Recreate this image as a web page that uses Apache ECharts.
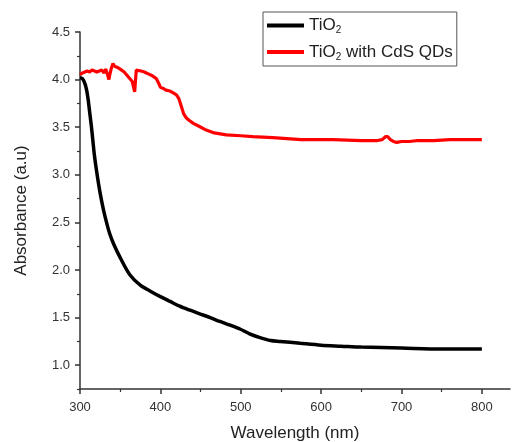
<!DOCTYPE html>
<html>
<head>
<meta charset="utf-8">
<script src="https://cdn.jsdelivr.net/npm/echarts@6/dist/echarts.min.js"></script>
<style>html,body{margin:0;padding:0;background:#fff}#c{width:513px;height:442px}</style>
</head>
<body>
<div id="c"></div>
<script>
const seriesNames = ['TiO2', 'TiO2 with CdS QDs'];
const tio2X = [300,303,306,308,310,312,314,316,318,321,325,329,333,337,342,350,362,375,387,400,412,424,436,449,462,474,487,499,511,524,537,549,574,600,625,650,700,750,800];
const tio2Y = [4.02,4.01,3.96,3.90,3.80,3.66,3.52,3.36,3.20,3.02,2.81,2.64,2.50,2.38,2.27,2.13,1.95,1.84,1.78,1.72,1.67,1.62,1.58,1.54,1.50,1.46,1.42,1.38,1.33,1.29,1.26,1.25,1.23,1.21,1.20,1.19,1.18,1.17,1.17];
const cdsX = [300,303,306,309,312,315,318,321,324,327,330,332,334,336,337,339,341,343,346,350,355,360,365,368,370,372,376,380,385,390,395,398,400,403,407,412,416,420,423,426,429,432,436,441,448,457,467,482,500,515,540,575,615,650,670,676,680,683,686,690,694,700,710,720,740,760,780,800];
const cdsY = [4.05,4.07,4.08,4.09,4.08,4.10,4.09,4.08,4.09,4.10,4.07,4.11,4.06,4.00,4.05,4.12,4.17,4.14,4.13,4.11,4.08,4.03,3.98,3.87,4.10,4.11,4.09,4.08,4.06,4.04,4.01,3.96,3.92,3.91,3.89,3.88,3.86,3.84,3.80,3.72,3.64,3.60,3.57,3.54,3.51,3.47,3.44,3.42,3.41,3.40,3.39,3.37,3.37,3.36,3.36,3.37,3.40,3.40,3.37,3.35,3.34,3.35,3.35,3.36,3.36,3.37,3.37,3.37];
const xTicks = [300,400,500,600,700,800];
const xMinor = [350,450,550,650,750];
const yTicks = [1.0,1.5,2.0,2.5,3.0,3.5,4.0,4.5];
const yMinor = [0.75,1.25,1.75,2.25,2.75,3.25,3.75,4.25];

const zip = (xs, ys) => xs.map((x, i) => [x, ys[i]]);
const font = 'Liberation Sans, Arial, sans-serif';
const axisColor = '#333';

const chart = echarts.init(document.getElementById('c'), null, {renderer: 'canvas'});
chart.setOption({
  animation: false,
  backgroundColor: '#fff',
  grid: {left: 80, right: 3, top: 32, bottom: 53, containLabel: false, outerBoundsMode: 'none'},
  legend: {
    orient: 'vertical',
    left: 263, top: 12,
    borderColor: '#555', borderWidth: 1,
    padding: [5, 4, 4, 4],
    itemGap: 8,
    itemWidth: 37, itemHeight: 4,
    icon: 'rect',
    data: seriesNames,
    formatter: n => n.replace('TiO2', 'TiO{s|2}'),
    textStyle: {
      fontFamily: font, fontSize: 17, color: '#222',
      rich: {s: {fontFamily: font, fontSize: 10, color: '#222', padding: [10, 0, 0, 0]}}
    }
  },
  xAxis: [{
    type: 'value', min: 300, max: 835,
    name: 'Wavelength (nm)', nameLocation: 'middle', nameGap: 36,
    nameTextStyle: {fontFamily: font, fontSize: 17, color: '#222'},
    axisLine: {show: true, lineStyle: {color: axisColor, width: 1.5}},
    axisTick: {show: true, customValues: xTicks, length: 5, lineStyle: {color: axisColor, width: 1.5}},
    axisLabel: {customValues: xTicks, fontFamily: font, fontSize: 13, color: '#333', margin: 12},
    splitLine: {show: false}
  }, {
    type: 'value', min: 300, max: 835, position: 'bottom',
    axisLine: {show: false},
    axisTick: {show: true, customValues: xMinor, length: 3, lineStyle: {color: axisColor, width: 1.2}},
    axisLabel: {show: false},
    splitLine: {show: false}
  }],
  yAxis: [{
    type: 'value', min: 0.75, max: 4.5,
    name: 'Absorbance (a.u)', nameLocation: 'middle', nameGap: 50,
    nameTextStyle: {fontFamily: font, fontSize: 17, color: '#222'},
    axisLine: {show: true, lineStyle: {color: axisColor, width: 1.5}},
    axisTick: {show: true, customValues: yTicks, length: 5, lineStyle: {color: axisColor, width: 1.5}},
    axisLabel: {customValues: yTicks, formatter: v => v.toFixed(1), fontFamily: font, fontSize: 13, color: '#333', margin: 10},
    splitLine: {show: false}
  }, {
    type: 'value', min: 0.75, max: 4.5, position: 'left',
    axisLine: {show: false},
    axisTick: {show: true, customValues: yMinor, length: 3, lineStyle: {color: axisColor, width: 1.2}},
    axisLabel: {show: false},
    splitLine: {show: false}
  }],
  series: [{
    name: seriesNames[0], type: 'line', data: zip(tio2X, tio2Y),
    showSymbol: false, symbol: 'none', smooth: 0.3,
    lineStyle: {color: '#000', width: 3.5}, itemStyle: {color: '#000'}, z: 3
  }, {
    name: seriesNames[1], type: 'line', data: zip(cdsX, cdsY),
    showSymbol: false, symbol: 'none',
    lineStyle: {color: '#ff0000', width: 3.2}, itemStyle: {color: '#ff0000'}, z: 2
  }]
});
</script>
</body>
</html>
